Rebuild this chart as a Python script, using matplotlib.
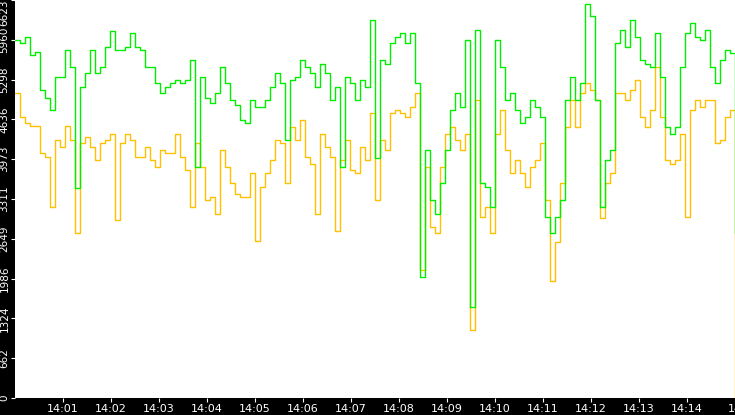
import matplotlib
matplotlib.use("Agg")
import matplotlib.pyplot as plt
import numpy as np

green = [5960,5900,6000,5700,5750,5130,5000,4790,5340,5340,5790,5500,3500,5180,5400,5790,5400,5500,5840,6100,
5790,5790,5840,6070,5840,5790,5510,5510,5240,5070,5170,5240,5290,5240,5290,5620,3840,5340,5000,4910,
5070,5500,5240,4960,4870,4630,4570,4960,4850,4850,4960,5180,5400,5240,4300,5290,5340,5620,5510,5400,
5170,5560,5400,4960,5170,3850,5340,5240,4960,5290,5170,6290,4000,5620,5560,5900,6010,6070,5900,6070,
5240,2020,4130,3290,3070,3570,4130,4790,5070,4850,5960,1510,6120,3570,3510,3180,5960,5510,4960,5070,
4790,4570,4680,4960,4850,4680,3010,2750,3010,3290,4960,5340,4960,5240,6550,6350,4960,3180,3960,4130,
5900,6120,5840,6290,6010,5620,5560,5510,6070,5340,4510,4400,4510,5510,6070,6240,6010,5960,6120,5510,
5240,5620,5790,5740,2750]
yellow = [5070,4680,4570,4520,4520,4080,4010,3180,4290,4180,4520,4290,2750,4240,4350,4180,3960,4240,4290,4400,
2960,4240,4400,4290,4010,4010,4180,3960,3850,4130,4070,4070,4400,4010,3790,3180,4240,3850,3290,3350,
3070,4130,3850,3570,3400,3350,3350,3740,2620,3510,3740,3960,4290,4240,3570,4510,4290,4630,4010,3900,
3070,4400,4180,4010,2780,3960,4290,3790,3740,4180,3960,4740,3290,4290,4130,4740,4790,4740,4680,4850,
5070,2130,3850,2850,2750,3850,4400,4510,4290,4130,4400,1130,4960,3010,3180,2750,4400,4790,4130,3740,
3960,3740,3510,3850,3960,4240,3290,1950,2600,3570,4510,4960,4510,5070,5240,5120,4960,3000,3570,3740,
5070,5070,4960,5120,5290,4680,4510,4790,5500,4680,3960,3900,3960,4400,3010,4790,4960,4850,4960,4960,
4240,4290,4680,4790,0]
step_seconds = 6.25
y_max = 6623
xtick_labels = ["14:01","14:02","14:03","14:04","14:05","14:06","14:07","14:08",
                "14:09","14:10","14:11","14:12","14:13","14:14","14"]

t = np.arange(len(green)) * step_seconds / 60.0

fig = plt.figure(figsize=(7.35, 4.15), dpi=100, facecolor="black")
ax = fig.add_axes([15/735, 17/415, 720/735, 398/415])
ax.set_facecolor("white")
ax.plot(t, yellow, color="#ffc000", lw=1.0, drawstyle="steps-post")
ax.plot(t, green, color="#00ee00", lw=1.0, drawstyle="steps-post")
ax.set_xlim(0, 15)
ax.set_ylim(0, y_max)
yt = np.linspace(0, y_max, 11)
ax.set_yticks(yt)
labels = ax.set_yticklabels([str(int(np.floor(v + 1e-6))) for v in yt], rotation=90, va="center",
                   color="white", fontsize=7.5)
labels[-1].set_va("top")
ax.set_xticks(np.arange(1, 16))
ax.set_xticklabels(xtick_labels, color="white", fontsize=8)
ax.tick_params(colors="white", length=3, pad=1)
for s in ax.spines.values():
    s.set_visible(False)
fig.savefig("out.png", dpi=100, facecolor="black")
